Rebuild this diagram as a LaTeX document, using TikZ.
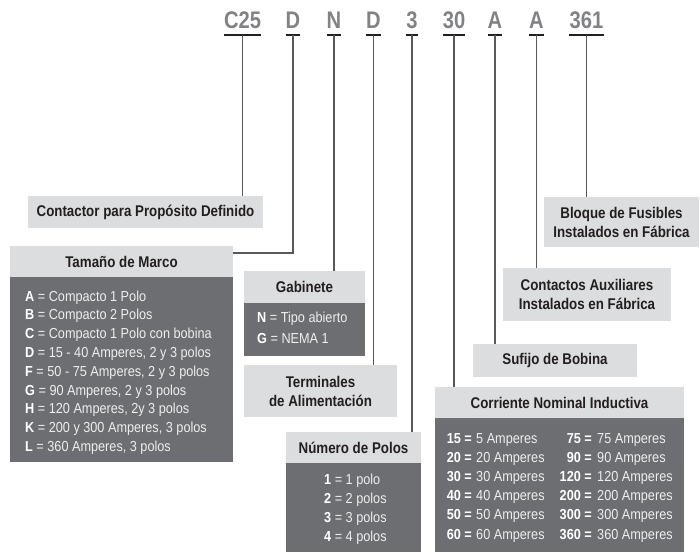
\documentclass[tikz,border=0pt]{standalone}
\usepackage{fontspec}
\setmainfont{Liberation Sans}[FakeStretch=0.875]
\newfontfamily\codefont{Liberation Sans}[FakeStretch=0.84]
\newfontfamily\titlefont{Liberation Sans}[FakeStretch=0.86]
\definecolor{lightbox}{HTML}{DCDDDE}
\definecolor{darkbox}{HTML}{6D6E71}
\definecolor{bodytxt}{HTML}{EEEEEE}
\definecolor{titletxt}{HTML}{231F20}
\definecolor{codetxt}{HTML}{808285}
\definecolor{linec}{HTML}{58595B}
\tikzset{
  lbox/.style={fill=lightbox, draw=none, inner sep=0pt, text=titletxt,
    font=\titlefont\fontsize{15.5}{19}\selectfont\bfseries, align=center},
  dbox/.style={fill=darkbox, draw=none, inner sep=0pt},
  codelbl/.style={inner sep=0pt, anchor=base, text=codetxt,
    font=\codefont\fontsize{24}{26}\selectfont\bfseries},
  uline/.style={draw=titletxt, line width=1.4pt},
  conn/.style={draw=linec, line width=1.1pt},
  row/.style={inner sep=0pt, anchor=base west, text=bodytxt,
    font=\fontsize{14.5}{16}\selectfont},
  rowb/.style={inner sep=0pt, anchor=base east, text=white,
    font=\fontsize{14.5}{16}\selectfont\bfseries}
}
\begin{document}
\begin{tikzpicture}[x=1pt,y=-1pt]
\useasboundingbox (0,0) rectangle (700,552);

% code letters
\node[codelbl] (cC) at (242.5,28) {C25};
\node[codelbl] (cD) at (293,28) {D};
\node[codelbl] (cN) at (334,28) {N};
\node[codelbl] (cT) at (373.5,28) {D};
\node[codelbl] (cP) at (412,28) {3};
\node[codelbl] (cI) at (454,28) {30};
\node[codelbl] (cS) at (495,28) {A};
\node[codelbl] (cA) at (536.5,28) {A};
\node[codelbl] (cF) at (586.5,28) {361};
\foreach \n in {cC,cD,cN,cT,cP,cI,cS,cA,cF}{
  \draw[uline] ([yshift=-7pt]\n.base west) -- ([yshift=-7pt]\n.base east);
  \coordinate (\n u) at ([yshift=-7pt]\n.base);
}

% boxes
\node[lbox, minimum width=235pt, minimum height=32pt] (contactor) at (145.5,212) {Contactor para Propósito Definido};

\node[lbox, minimum width=223pt, minimum height=31pt] (tamano) at (121.5,261.5) {Tamaño de Marco};
\node[dbox, minimum width=223pt, minimum height=185pt, anchor=north] (tamanob) at (tamano.south) {};
\foreach \k/\t [count=\i from 0] in {A/Compacto 1 Polo, B/Compacto 2 Polos, C/Compacto 1 Polo con bobina, D/{15 - 40 Amperes, 2 y 3 polos}, F/{50 - 75 Amperes, 2 y 3 polos}, G/{90 Amperes, 2 y 3 polos}, H/{120 Amperes, 2y 3 polos}, K/{200 y 300 Amperes, 3 polos}, L/{360 Amperes, 3 polos}}{
  \node[row] (tm\i) at (25,{301+18.8*\i}) {\textcolor{white}{\bfseries\k} = \t};
}

\node[lbox, minimum width=121pt, minimum height=32pt] (gabinete) at (304.5,287) {Gabinete};
\node[dbox, minimum width=121pt, minimum height=53pt, anchor=north] (gabineteb) at (gabinete.south) {};
\node[row] (gb0) at (257,322) {\textcolor{white}{\bfseries N} = Tipo abierto};
\node[row] (gb1) at (257,343) {\textcolor{white}{\bfseries G} = NEMA 1};

\node[lbox, minimum width=153pt, minimum height=52pt] (terminales) at (320.5,391) {Terminales\\de Alimentación};

\node[lbox, minimum width=135pt, minimum height=31pt] (polos) at (353.5,447.5) {Número de Polos};
\node[dbox, minimum width=135pt, minimum height=89pt, anchor=north] (polosb) at (polos.south) {};
\foreach \k/\t [count=\i from 0] in {1/1 polo, 2/2 polos, 3/3 polos, 4/4 polos}{
  \node[row] (pl\i) at (324,{484+19.3*\i}) {\textcolor{white}{\bfseries\k} = \t};
}

\node[lbox, minimum width=249pt, minimum height=31pt] (corriente) at (559.5,402.5) {Corriente Nominal Inductiva};
\node[dbox, minimum width=249pt, minimum height=134pt, anchor=north] (corrienteb) at (corriente.south) {};
\foreach \a/\b/\c/\d [count=\i from 0] in {15/5/75/75, 20/20/90/90, 30/30/120/120, 40/40/200/200, 50/50/300/300, 60/60/360/360}{
  \node[rowb] (cl\i) at (472,{443+19.2*\i}) {\a\ =};
  \node[row] (ct\i) at (476,{443+19.2*\i}) {\b\ Amperes};
  \node[rowb] (cr\i) at (592,{443+19.2*\i}) {\c\ =};
  \node[row] (cs\i) at (597,{443+19.2*\i}) {\d\ Amperes};
}

\node[lbox, minimum width=164pt, minimum height=33pt] (sufijo) at (555,360.5) {Sufijo de Bobina};
\node[lbox, minimum width=168pt, minimum height=53pt] (auxiliares) at (587,294.5) {Contactos Auxiliares\\Instalados en Fábrica};
\node[lbox, minimum width=155pt, minimum height=50pt] (fusibles) at (621.5,222) {Bloque de Fusibles\\Instalados en Fábrica};

% connectors
\draw[conn] (cCu) -- (cCu |- contactor.north);
\draw[conn] (cDu) |- ([yshift=8.5pt]tamano.east);
\draw[conn] (cNu) -- (cNu |- gabinete.north);
\draw[conn] (cTu) -- (cTu |- terminales.north);
\draw[conn] (cPu) -- (cPu |- polos.north);
\draw[conn] (cIu) -- (cIu |- corriente.north);
\draw[conn] (cSu) -- (cSu |- sufijo.north);
\draw[conn] (cAu) -- (cAu |- auxiliares.north);
\draw[conn] (cFu) -- (cFu |- fusibles.north);
\end{tikzpicture}
\end{document}
